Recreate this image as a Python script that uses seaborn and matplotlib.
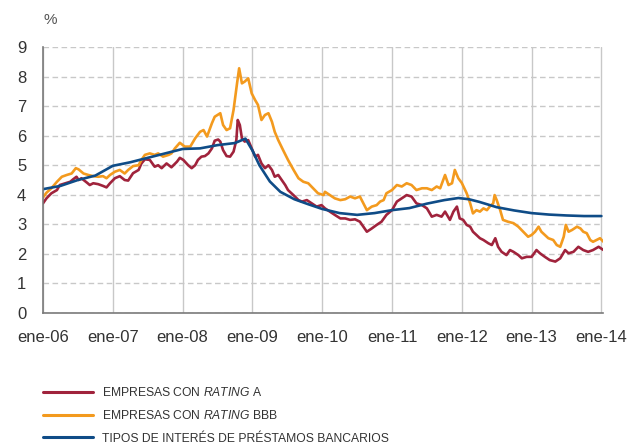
import matplotlib
matplotlib.use("Agg")
import matplotlib.pyplot as plt
from matplotlib.lines import Line2D
import numpy as np
import pandas as pd
import seaborn as sns

# ---------------- data ----------------
years_a = [2006.00, 2006.05, 2006.12, 2006.20, 2006.24, 2006.32, 2006.39, 2006.43, 2006.48, 2006.51,
           2006.55, 2006.63, 2006.67, 2006.72, 2006.79, 2006.86, 2006.91, 2006.96, 2007.03, 2007.10,
           2007.17, 2007.22, 2007.29, 2007.37, 2007.41, 2007.46, 2007.53, 2007.60, 2007.65, 2007.70,
           2007.77, 2007.84, 2007.92, 2007.96, 2008.01, 2008.08, 2008.13, 2008.18, 2008.22, 2008.27,
           2008.32, 2008.37, 2008.42, 2008.46, 2008.51, 2008.54, 2008.58, 2008.63, 2008.68, 2008.73,
           2008.77, 2008.79, 2008.82, 2008.85, 2008.89, 2008.94, 2008.99, 2009.04, 2009.08, 2009.13,
           2009.18, 2009.23, 2009.28, 2009.32, 2009.37, 2009.42, 2009.47, 2009.51, 2009.56, 2009.61,
           2009.66, 2009.71, 2009.78, 2009.85, 2009.92, 2009.99, 2010.04, 2010.11, 2010.18, 2010.26,
           2010.33, 2010.40, 2010.47, 2010.54, 2010.59, 2010.64, 2010.71, 2010.78, 2010.85, 2010.92,
           2011.00, 2011.07, 2011.14, 2011.21, 2011.28, 2011.35, 2011.43, 2011.50, 2011.57, 2011.64,
           2011.71, 2011.76, 2011.83, 2011.88, 2011.93, 2011.97, 2012.02, 2012.07, 2012.12, 2012.16,
           2012.21, 2012.26, 2012.31, 2012.38, 2012.43, 2012.48, 2012.52, 2012.57, 2012.64, 2012.69,
           2012.74, 2012.81, 2012.86, 2012.93, 2013.00, 2013.07, 2013.12, 2013.19, 2013.26, 2013.34,
           2013.41, 2013.48, 2013.53, 2013.60, 2013.67, 2013.74, 2013.81, 2013.88, 2013.96, 2014.03]
rating_a = [3.71, 3.88, 4.05, 4.16, 4.33, 4.39, 4.44, 4.52, 4.61, 4.50,
            4.56, 4.41, 4.33, 4.39, 4.36, 4.30, 4.25, 4.39, 4.56, 4.63,
            4.50, 4.48, 4.73, 4.84, 5.06, 5.20, 5.18, 4.95, 5.00, 4.90,
            5.06, 4.93, 5.12, 5.25, 5.18, 5.00, 4.90, 5.00, 5.18, 5.29,
            5.31, 5.40, 5.57, 5.83, 5.87, 5.80, 5.51, 5.31, 5.29, 5.46,
            5.85, 6.53, 6.36, 5.91, 5.80, 5.85, 5.57, 5.29, 5.35, 5.06,
            4.90, 5.00, 4.84, 4.61, 4.67, 4.50, 4.33, 4.16, 4.05, 3.94,
            3.82, 3.77, 3.82, 3.71, 3.60, 3.65, 3.54, 3.43, 3.32, 3.20,
            3.20, 3.15, 3.17, 3.09, 2.92, 2.75, 2.86, 2.98, 3.09, 3.32,
            3.48, 3.77, 3.88, 3.99, 3.94, 3.71, 3.65, 3.54, 3.26, 3.32,
            3.26, 3.43, 3.15, 3.43, 3.60, 3.20, 3.15, 2.98, 2.92, 2.75,
            2.64, 2.53, 2.47, 2.36, 2.30, 2.53, 2.24, 2.07, 1.96, 2.13,
            2.07, 1.96, 1.85, 1.90, 1.90, 2.13, 2.02, 1.90, 1.79, 1.74,
            1.85, 2.13, 2.02, 2.07, 2.24, 2.13, 2.07, 2.13, 2.24, 2.13]

years_bbb = [2006.00, 2006.05, 2006.12, 2006.20, 2006.27, 2006.34, 2006.41, 2006.47, 2006.51, 2006.58,
             2006.65, 2006.72, 2006.79, 2006.86, 2006.91, 2006.96, 2007.03, 2007.10, 2007.17, 2007.22,
             2007.29, 2007.37, 2007.41, 2007.46, 2007.53, 2007.60, 2007.65, 2007.72, 2007.80, 2007.84,
             2007.89, 2007.96, 2008.03, 2008.11, 2008.18, 2008.25, 2008.30, 2008.35, 2008.42, 2008.46,
             2008.54, 2008.58, 2008.63, 2008.68, 2008.73, 2008.78, 2008.81, 2008.85, 2008.89, 2008.94,
             2008.99, 2009.04, 2009.08, 2009.13, 2009.18, 2009.23, 2009.28, 2009.32, 2009.37, 2009.44,
             2009.51, 2009.59, 2009.66, 2009.73, 2009.80, 2009.87, 2009.94, 2010.02, 2010.04, 2010.11,
             2010.18, 2010.26, 2010.33, 2010.40, 2010.47, 2010.54, 2010.59, 2010.64, 2010.71, 2010.78,
             2010.83, 2010.88, 2010.92, 2011.00, 2011.07, 2011.14, 2011.21, 2011.28, 2011.35, 2011.43,
             2011.50, 2011.57, 2011.64, 2011.69, 2011.76, 2011.81, 2011.86, 2011.90, 2011.95, 2012.00,
             2012.07, 2012.12, 2012.16, 2012.21, 2012.26, 2012.31, 2012.36, 2012.40, 2012.45, 2012.47,
             2012.50, 2012.55, 2012.59, 2012.66, 2012.74, 2012.81, 2012.88, 2012.95, 2013.00, 2013.05,
             2013.10, 2013.14, 2013.19, 2013.24, 2013.31, 2013.36, 2013.41, 2013.46, 2013.49, 2013.53,
             2013.58, 2013.65, 2013.70, 2013.74, 2013.79, 2013.84, 2013.88, 2013.93, 2013.98, 2014.03]
rating_bbb = [3.91, 4.07, 4.22, 4.44, 4.61, 4.67, 4.72, 4.90, 4.86, 4.72,
              4.67, 4.63, 4.61, 4.63, 4.56, 4.67, 4.78, 4.84, 4.72, 4.84,
              4.97, 5.00, 5.18, 5.35, 5.40, 5.35, 5.40, 5.29, 5.35, 5.40,
              5.57, 5.76, 5.63, 5.63, 5.91, 6.13, 6.19, 5.97, 6.42, 6.64,
              6.76, 6.36, 6.19, 6.25, 6.87, 7.77, 8.28, 7.77, 7.83, 7.94,
              7.43, 7.20, 7.04, 6.53, 6.70, 6.76, 6.47, 6.13, 5.85, 5.51,
              5.18, 4.84, 4.56, 4.44, 4.39, 4.22, 4.05, 3.99, 4.10, 3.99,
              3.88, 3.82, 3.85, 3.94, 3.88, 3.94, 3.71, 3.48, 3.60, 3.65,
              3.77, 3.82, 4.05, 4.16, 4.33, 4.28, 4.39, 4.33, 4.16, 4.22,
              4.22, 4.16, 4.28, 4.22, 4.67, 4.33, 4.39, 4.84, 4.56, 4.40,
              4.05, 3.71, 3.37, 3.48, 3.43, 3.54, 3.48, 3.60, 3.71, 3.99,
              3.82, 3.48, 3.15, 3.09, 3.04, 2.92, 2.75, 2.58, 2.64, 2.75,
              2.92, 2.75, 2.64, 2.53, 2.47, 2.30, 2.24, 2.58, 2.98, 2.75,
              2.81, 2.92, 2.86, 2.75, 2.70, 2.47, 2.41, 2.47, 2.53, 2.41]

years_bank = [2006.00, 2006.25, 2006.50, 2006.75, 2007.00, 2007.25, 2007.50, 2007.75, 2008.00, 2008.25,
              2008.50, 2008.75, 2008.90, 2009.00, 2009.10, 2009.25, 2009.40, 2009.60, 2009.80, 2010.00,
              2010.25, 2010.50, 2010.75, 2011.00, 2011.25, 2011.50, 2011.75, 2011.95, 2012.10, 2012.25,
              2012.50, 2012.75, 2013.00, 2013.25, 2013.50, 2013.75, 2014.00]
bank_rates = [4.19, 4.30, 4.50, 4.65, 4.98, 5.10, 5.25, 5.40, 5.55, 5.57,
              5.68, 5.75, 5.90, 5.50, 5.00, 4.45, 4.10, 3.85, 3.68, 3.52,
              3.38, 3.32, 3.38, 3.48, 3.55, 3.70, 3.82, 3.89, 3.85, 3.76,
              3.58, 3.47, 3.38, 3.33, 3.30, 3.28, 3.28]

series_names = ["EMPRESAS CON $\\mathit{RATING}$ A",
                "EMPRESAS CON $\\mathit{RATING}$ BBB",
                "TIPOS DE INTERÉS DE PRÉSTAMOS BANCARIOS"]
series_colors = ["#A0233C", "#F39A1E", "#0F4C87"]

tick_years = [2006, 2007, 2008, 2009, 2010, 2011, 2012, 2013, 2014]
tick_labels = ["ene-06", "ene-07", "ene-08", "ene-09", "ene-10",
               "ene-11", "ene-12", "ene-13", "ene-14"]
y_ticks = [0, 1, 2, 3, 4, 5, 6, 7, 8, 9]

# ---------------- styling ----------------
sns.set_theme(style="white")
plt.rcParams["font.family"] = ["Liberation Sans", "DejaVu Sans"]
plt.rcParams["mathtext.fontset"] = "custom"
plt.rcParams["mathtext.rm"] = "Liberation Sans"
plt.rcParams["mathtext.it"] = "Liberation Sans:italic"

df = pd.concat([
    pd.DataFrame({"year": years_a, "value": rating_a, "serie": series_names[0]}),
    pd.DataFrame({"year": years_bbb, "value": rating_bbb, "serie": series_names[1]}),
    pd.DataFrame({"year": years_bank, "value": bank_rates, "serie": series_names[2]}),
], ignore_index=True)

W, H = 634, 447
fig = plt.figure(figsize=(W / 100, H / 100), dpi=100)
ax = fig.add_axes([43 / W, 1 - 313 / H, 560 / W, 266 / H])

sns.lineplot(data=df, x="year", y="value", hue="serie",
             palette=dict(zip(series_names, series_colors)),
             hue_order=series_names, estimator=None, sort=False,
             linewidth=1.9, legend=False, ax=ax)

ax.set_xlim(2006, 2006 + 560 / 69.8)
ax.set_ylim(0, 9)
ax.set_xticks(tick_years)
ax.set_xticklabels(tick_labels)
ax.set_yticks(y_ticks)
ax.set_xlabel("")
ax.set_ylabel("")

ax.set_axisbelow(True)
ax.grid(axis="x", color="#c8c8c8", linewidth=1.0, linestyle="-")
ax.grid(axis="y", color="#c8c8c8", linewidth=1.0, linestyle=(0, (4, 2.5)))

for s in ["top", "right"]:
    ax.spines[s].set_visible(False)
for s in ["left", "bottom"]:
    ax.spines[s].set_color("#7a7a7a")
    ax.spines[s].set_linewidth(1.2)

ax.tick_params(axis="both", length=2, width=1, color="#7a7a7a",
               labelsize=12, labelcolor="#333333", pad=10)

fig.text(43 / W, 1 - 20 / H, "%", ha="left", va="center",
         fontsize=11, color="#555555")

handles = [Line2D([], [], color=c, linewidth=2.2) for c in series_colors]
leg = fig.legend(handles, series_names, loc="upper left",
                 bbox_to_anchor=(43 / W, 1 - 386 / H), frameon=False,
                 borderpad=0, borderaxespad=0, handlelength=4.1,
                 handletextpad=0.75, labelspacing=0.85,
                 prop={"family": "Liberation Sans", "size": 8.7})
for t in leg.get_texts():
    t.set_color("#333333")

fig.savefig("out.png", dpi=100)
